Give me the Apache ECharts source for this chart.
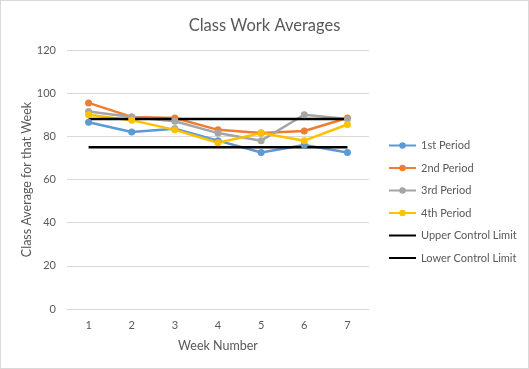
<!DOCTYPE html>
<html><head><meta charset="utf-8">
<script src="https://cdn.jsdelivr.net/npm/echarts@6/dist/echarts.min.js"></script>
<style>html,body{margin:0;padding:0;background:#fff}#c{width:527px;height:367px;border:1px solid #d9d9d9}</style>
</head><body><div id="c"></div>
<script>
var weeks = ['1','2','3','4','5','6','7'];
var period1 = [86.5, 82, 83.5, 78, 72.5, 76, 72.5];
var period2 = [95.5, 89, 88.5, 83, 81.5, 82.5, 88.5];
var period3 = [91.5, 89, 87, 81.5, 78, 90, 88];
var period4 = [90, 87.5, 83, 77, 81.5, 78, 85.5];
var upperLimit = [88, 88, 88, 88, 88, 88, 88];
var lowerLimit = [75, 75, 75, 75, 75, 75, 75];
var yTicks = {min: 0, max: 120, interval: 20};

var font = 'Lato, "Open Sans", sans-serif';
var chart = echarts.init(document.getElementById('c'));
function ser(name, data, color, sym) {
  return {name: name, type: 'line', data: data, color: color,
    symbol: sym ? 'circle' : 'none', symbolSize: 7, showSymbol: sym,
    lineStyle: {width: 2.5, color: color}, itemStyle: {color: color}};
}
chart.setOption({
  animation: false,
  title: {text: 'Class Work Averages', left: 'center', top: 11,
    textStyle: {fontFamily: font, fontSize: 16.5, fontWeight: 'normal', color: '#595959'}},
  grid: {left: 66, right: 159, top: 49, bottom: 59},
  legend: {orient: 'vertical', left: 387, top: 138, padding: 0, itemGap: 9.5, itemWidth: 27, itemHeight: 8,
    textStyle: {fontFamily: font, fontSize: 11, color: '#595959', lineHeight: 13},
    data: ['1st Period','2nd Period','3rd Period','4th Period',
      {name: 'Upper Control Limit', itemStyle: {opacity: 0}},
      {name: 'Lower Control Limit', itemStyle: {opacity: 0}}]},
  xAxis: {type: 'category', data: weeks, boundaryGap: true,
    name: 'Week Number', nameLocation: 'middle', nameGap: 30,
    nameTextStyle: {fontFamily: font, fontSize: 12.5, color: '#595959'},
    axisLine: {lineStyle: {color: '#d9d9d9'}}, axisTick: {show: false},
    axisLabel: {fontFamily: font, fontSize: 11, color: '#595959', margin: 11}},
  yAxis: {type: 'value', min: yTicks.min, max: yTicks.max, interval: yTicks.interval,
    name: 'Class Average for that Week', nameLocation: 'middle', nameGap: 34, nameMoveOverlap: false,
    nameTextStyle: {fontFamily: font, fontSize: 12.5, color: '#595959'},
    axisLine: {show: false}, axisTick: {show: false},
    splitLine: {lineStyle: {color: '#d9d9d9'}},
    axisLabel: {fontFamily: font, fontSize: 11, color: '#595959', margin: 11}},
  series: [
    ser('1st Period', period1, '#5B9BD5', true),
    ser('2nd Period', period2, '#ED7D31', true),
    ser('3rd Period', period3, '#A5A5A5', true),
    ser('4th Period', period4, '#FFC000', true),
    ser('Upper Control Limit', upperLimit, '#000000', false),
    ser('Lower Control Limit', lowerLimit, '#000000', false)
  ]
});
</script></body></html>
